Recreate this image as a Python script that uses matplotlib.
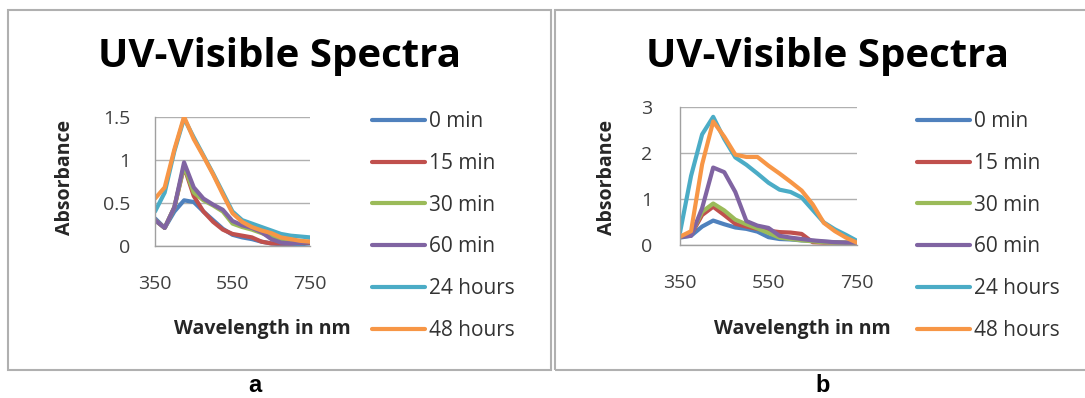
import matplotlib
matplotlib.use("Agg")
import matplotlib.pyplot as plt
from matplotlib.patches import Rectangle

plt.rcParams['font.family'] = ['Open Sans', 'DejaVu Sans']

# ---- data ----
wavelength = [350, 375, 400, 425, 450, 475, 500, 525, 550, 575, 600, 625, 650, 675, 700, 725, 750]
series_labels = ["0 min", "15 min", "30 min", "60 min", "24 hours", "48 hours"]
series_colors = ["#4F81BD", "#C0504D", "#9BBB59", "#8064A2", "#4BACC6", "#F79646"]

# panel a
a_0min = [0.32, 0.21, 0.40, 0.53, 0.51, 0.40, 0.30, 0.20, 0.13, 0.10, 0.08, 0.05, 0.03, 0.02, 0.02, 0.02, 0.03]
a_15min = [0.30, 0.21, 0.45, 0.92, 0.58, 0.40, 0.28, 0.19, 0.14, 0.12, 0.10, 0.05, 0.03, 0.03, 0.03, 0.04, 0.04]
a_30min = [0.30, 0.21, 0.45, 0.93, 0.62, 0.53, 0.47, 0.40, 0.26, 0.22, 0.19, 0.15, 0.11, 0.07, 0.05, 0.05, 0.05]
a_60min = [0.30, 0.21, 0.45, 0.97, 0.68, 0.55, 0.48, 0.42, 0.29, 0.24, 0.21, 0.16, 0.08, 0.04, 0.03, 0.04, 0.05]
a_24h = [0.40, 0.62, 1.10, 1.48, 1.26, 1.05, 0.84, 0.62, 0.40, 0.30, 0.26, 0.22, 0.18, 0.14, 0.12, 0.11, 0.10]
a_48h = [0.55, 0.68, 1.12, 1.50, 1.24, 1.04, 0.83, 0.60, 0.38, 0.28, 0.22, 0.18, 0.15, 0.10, 0.08, 0.06, 0.05]

# panel b
b_0min = [0.16, 0.20, 0.40, 0.53, 0.45, 0.38, 0.35, 0.29, 0.17, 0.13, 0.12, 0.10, 0.09, 0.07, 0.06, 0.05, 0.04]
b_15min = [0.18, 0.22, 0.65, 0.83, 0.65, 0.46, 0.40, 0.35, 0.31, 0.28, 0.27, 0.24, 0.06, 0.05, 0.05, 0.05, 0.05]
b_30min = [0.18, 0.23, 0.72, 0.90, 0.75, 0.55, 0.45, 0.36, 0.26, 0.16, 0.13, 0.10, 0.08, 0.06, 0.05, 0.05, 0.05]
b_60min = [0.18, 0.20, 0.80, 1.68, 1.58, 1.15, 0.52, 0.42, 0.37, 0.20, 0.16, 0.13, 0.10, 0.08, 0.06, 0.05, 0.05]
b_24h = [0.27, 1.50, 2.40, 2.78, 2.30, 1.90, 1.74, 1.55, 1.35, 1.20, 1.15, 1.03, 0.76, 0.49, 0.34, 0.22, 0.09]
b_48h = [0.18, 0.30, 1.75, 2.68, 2.35, 1.96, 1.91, 1.91, 1.72, 1.55, 1.37, 1.18, 0.88, 0.48, 0.30, 0.16, 0.05]

a_series = [a_0min, a_15min, a_30min, a_60min, a_24h, a_48h]
b_series = [b_0min, b_15min, b_30min, b_60min, b_24h, b_48h]

x_ticks = [350, 550, 750]
a_yticks = [0, 0.5, 1, 1.5]
a_yticklabels = ["0", "0.5", "1", "1.5"]
b_yticks = [0, 1, 2, 3]
b_yticklabels = ["0", "1", "2", "3"]

title = "UV-Visible Spectra"
xlabel = "Wavelength in nm"
ylabel = "Absorbance"
panel_letters = ["a", "b"]

# ---- figure ----
W, H = 1085, 398
fig = plt.figure(figsize=(W / 100, H / 100), dpi=100)

def fx(px):
    return px / W

def fy(py):
    return 1 - py / H

# panel frames
frame_col = "#b0b0b0"
fig.add_artist(Rectangle((fx(8), fy(370)), fx(551 - 8), (370 - 10) / H, transform=fig.transFigure,
                         fill=False, edgecolor=frame_col, linewidth=1.5))
fig.add_artist(Rectangle((fx(555), fy(370)), fx(1095 - 555), (370 - 10) / H, transform=fig.transFigure,
                         fill=False, edgecolor=frame_col, linewidth=1.5))

panels = [
    dict(rect=[fx(155), fy(246), fx(310 - 155), (246 - 116.7) / H], series=a_series, ylim=(0, 1.5),
         yticks=a_yticks, yticklabels=a_yticklabels, ypad=18, title_x=280, xlabel_x=262, ylabel_x=65,
         legend_x=372, letter_x=255),
    dict(rect=[fx(680), fy(245), fx(857 - 680), (245 - 106.7) / H], series=b_series, ylim=(0, 3),
         yticks=b_yticks, yticklabels=b_yticklabels, ypad=20, title_x=827, xlabel_x=802, ylabel_x=607,
         legend_x=917, letter_x=823),
]

for i, p in enumerate(panels):
    ax = fig.add_axes(p["rect"])
    lines = []
    for vals, col, lab in zip(p["series"], series_colors, series_labels):
        ln, = ax.plot(wavelength, vals, color=col, linewidth=3.0, solid_joinstyle='round',
                      solid_capstyle='round', label=lab)
        lines.append(ln)
    ax.set_xlim(350, 750)
    ax.set_ylim(*p["ylim"])
    ax.set_xticks(x_ticks)
    ax.set_xticklabels([str(t) for t in x_ticks])
    ax.set_yticks(p["yticks"])
    ax.set_yticklabels(p["yticklabels"])
    ax.yaxis.grid(True, color="#b0b0b0", linewidth=1.0)
    ax.set_axisbelow(True)
    for s in ["top", "right"]:
        ax.spines[s].set_visible(False)
    for s in ["left", "bottom"]:
        ax.spines[s].set_color("#a0a0a0")
        ax.spines[s].set_linewidth(1.0)
    ax.tick_params(axis='y', length=0, pad=p["ypad"], labelsize=14, labelcolor="#404040")
    ax.tick_params(axis='x', length=0, pad=21, labelsize=14, labelcolor="#404040")

    fig.text(fx(p["title_x"]), fy(57), title, ha='center', va='center', fontsize=29,
             fontweight='bold', color='black')
    fig.text(fx(p["xlabel_x"]), fy(329), xlabel, ha='center', va='center', fontsize=14,
             fontweight='bold', color='#262626')
    fig.text(fx(p["ylabel_x"]), fy(177), ylabel, ha='center', va='center', fontsize=14,
             fontweight='bold', color='#262626', rotation=90)
    fig.text(fx(p["letter_x"]), fy(385), panel_letters[i], ha='center', va='center', fontsize=17,
             fontweight='bold', color='black', family=['Liberation Sans Narrow', 'Liberation Sans'])

    ax.legend(handles=lines, loc='upper left', bbox_to_anchor=(fx(p["legend_x"]), fy(111)),
              bbox_transform=fig.transFigure, frameon=False, fontsize=15,
              handlelength=2.55, handletextpad=0.2, labelspacing=1.0,
              borderpad=0, borderaxespad=0, labelcolor="#333333")

fig.savefig("out.png", dpi=100)
